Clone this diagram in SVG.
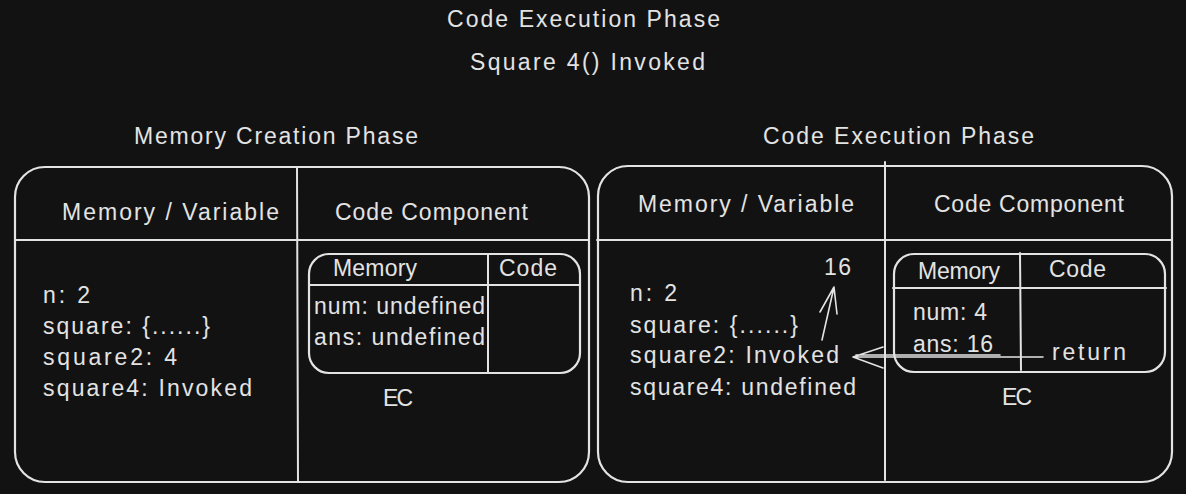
<svg xmlns="http://www.w3.org/2000/svg" width="1186" height="494" viewBox="0 0 1186 494">
<style>
  text { font-family: "Liberation Sans", "DejaVu Sans", sans-serif; font-size: 23px; fill: #e3e3e3; }
  .box { fill: none; stroke: #e3e3e3; stroke-width: 2.2; stroke-linecap: round; }
  .ln { fill: none; stroke: #e3e3e3; stroke-width: 2; stroke-linecap: round; }
  .arr { fill: none; stroke: #e3e3e3; stroke-width: 1.6; stroke-linecap: round; stroke-linejoin: round; }
</style>
<rect x="0" y="0" width="1186" height="494" fill="#121212"/>

<g id="titles">
  <text x="447" y="27" textLength="273">Code Execution Phase</text>
  <text x="470" y="70" textLength="235">Square 4() Invoked</text>
  <text x="134" y="144" textLength="284">Memory Creation Phase</text>
  <text x="763" y="144" textLength="271">Code Execution Phase</text>
</g>

<g id="memory-creation-ec">
  <rect class="box" x="15" y="167" width="574" height="315" rx="30"/>
  <line class="ln" x1="297" y1="167" x2="298" y2="482"/>
  <line class="ln" x1="15" y1="240" x2="589" y2="240"/>
  <text x="62" y="220" textLength="217">Memory / Variable</text>
  <text x="335" y="220" textLength="193">Code Component</text>
  <text x="43" y="303" textLength="47">n: 2</text>
  <text x="43" y="334" textLength="167">square: {......}</text>
  <text x="43" y="365" textLength="134">square2: 4</text>
  <text x="43" y="396" textLength="209">square4: Invoked</text>
  <text x="383" y="406" textLength="30">EC</text>
</g>

<g id="memory-creation-inner-ec">
  <rect class="box" x="309" y="254" width="271" height="119" rx="20"/>
  <line class="ln" x1="309" y1="285" x2="580" y2="285"/>
  <line class="ln" x1="488" y1="254" x2="488" y2="373"/>
  <text x="333" y="276" textLength="84">Memory</text>
  <text x="499" y="276" textLength="58">Code</text>
  <text x="314" y="314" textLength="171">num: undefined</text>
  <text x="314" y="345" textLength="171">ans: undefined</text>
</g>

<g id="code-execution-ec">
  <rect class="box" x="598" y="166" width="574" height="316" rx="30"/>
  <line class="ln" x1="885" y1="162" x2="885" y2="480"/>
  <line class="ln" x1="597" y1="240" x2="1172" y2="240"/>
  <text x="638" y="212" textLength="216">Memory / Variable</text>
  <text x="934" y="212" textLength="190">Code Component</text>
  <text x="630" y="301" textLength="47">n: 2</text>
  <text x="630" y="333" textLength="168">square: {......}</text>
  <text x="630" y="363" textLength="209">square2: Invoked</text>
  <text x="630" y="395" textLength="226">square4: undefined</text>
  <text x="824" y="275" textLength="27">16</text>
  <text x="1002" y="405" textLength="30">EC</text>
</g>

<g id="code-execution-inner-ec">
  <rect class="box" x="894" y="254" width="271" height="118" rx="20"/>
  <line class="ln" x1="893" y1="288" x2="1166" y2="288"/>
  <line class="ln" x1="1020" y1="253" x2="1021" y2="370"/>
  <text x="918" y="279" textLength="82">Memory</text>
  <text x="1049" y="277" textLength="57">Code</text>
  <text x="913" y="320" textLength="74">num: 4</text>
  <text x="913" y="352" textLength="80">ans: 16</text>
  <text x="1052" y="360" textLength="74">return</text>
</g>

<g id="connectors">
  <path class="arr" d="M822 340 L834 287 M834 287 L820 312 M834 287 L837 314"/>
  <path class="arr" d="M1043 357 L853 357 M853 357 L883 347 M853 357 L883 368 M856 355 L1000 355"/>
</g>
</svg>
